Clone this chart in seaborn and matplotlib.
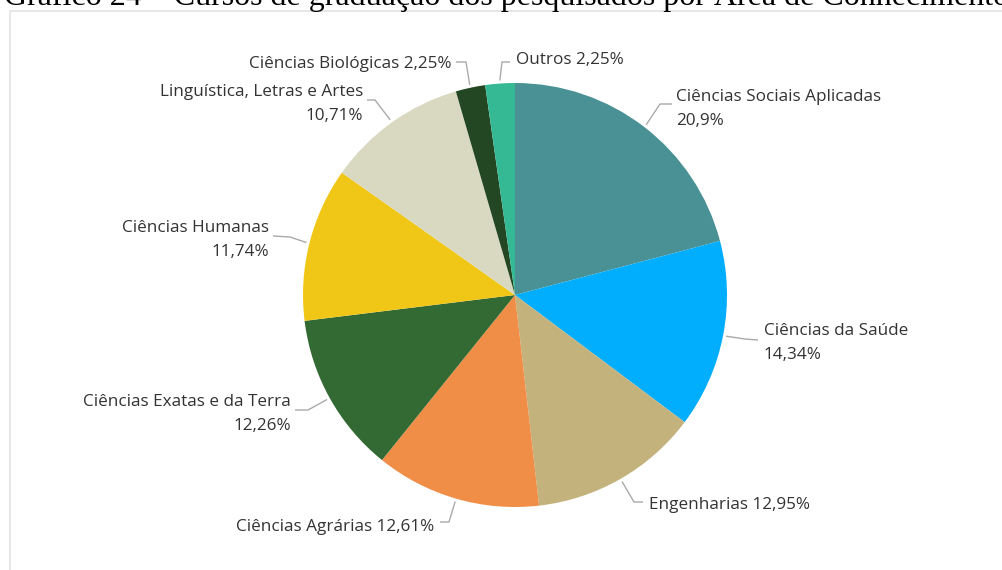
import numpy as np
import matplotlib
matplotlib.use("Agg")
import matplotlib.pyplot as plt
import matplotlib.patches as mpatches
import seaborn as sns

# ---------------- data ----------------
categories = ["Ciências Sociais Aplicadas", "Ciências da Saúde", "Engenharias",
              "Ciências Agrárias", "Ciências Exatas e da Terra", "Ciências Humanas",
              "Linguística, Letras e Artes", "Ciências Biológicas", "Outros"]
values = [20.9, 14.34, 12.95, 12.61, 12.26, 11.74, 10.71, 2.25, 2.25]
value_labels = ["20,9%", "14,34%", "12,95%", "12,61%", "12,26%", "11,74%",
                "10,71%", "2,25%", "2,25%"]
colors = ["#4A9195", "#01AEFE", "#C4B27C", "#F08E47", "#336933", "#F1C717",
          "#D9D8C1", "#234723", "#35B994"]
title = "Gráfico 24 – Cursos de graduação dos pesquisados por Área de Conhecimento"

# ---------------- layout (pixel units, y measured from top) ----------------
W, H = 1003, 570
CX, CY, R = 515, 295, 212
layout = [
    dict(elbow=(660, 104), end=(672, 104), text=(676, 97), ha="left", two=True),
    dict(elbow=(745, 339), end=(758, 340), text=(764, 331), ha="left", two=True),
    dict(elbow=(634, 502), end=(643, 502), text=(649, 505), ha="left", two=False),
    dict(elbow=(449, 522), end=(440, 522), text=(434, 527), ha="right", two=False),
    dict(elbow=(308, 410), end=(295, 410), text=(291, 402), ha="right", two=True),
    dict(elbow=(290, 237), end=(273, 236), text=(269, 228), ha="right", two=True),
    dict(elbow=(375, 100), end=(367, 100), text=(363, 92), ha="right", two=True),
    dict(elbow=(466, 62), end=(456, 62), text=(452, 64), ha="right", two=False),
    dict(elbow=(502, 62), end=(510, 62), text=(516, 60), ha="left", two=False),
]

sns.set_theme(style="white")
plt.rcParams["font.family"] = ["Open Sans", "DejaVu Sans"]

fig = plt.figure(figsize=(W / 100, H / 100), dpi=100)
fig.patch.set_facecolor("white")
ax = fig.add_axes([0, 0, 1, 1])

def fy(y):
    return H - y

# pie
wedges, _ = ax.pie(values, colors=colors, startangle=90, counterclock=False,
                   center=(CX, fy(CY)), radius=R, frame=True,
                   wedgeprops=dict(linewidth=0))
ax.set_xlim(0, W)
ax.set_ylim(0, H)
ax.set_aspect("equal")
ax.axis("off")

# frame
ax.add_patch(mpatches.Rectangle((10.5, -5), W, fy(10.5) + 5, fill=False,
                                edgecolor="#E3E3E3", lw=1.2, zorder=0))

txt_color = "#333333"
line_color = "#AAAAAA"
fs = 12.3
for w, cat, vl, lay in zip(wedges, categories, value_labels, layout):
    ang = np.deg2rad((w.theta1 + w.theta2) / 2)
    sx = CX + (R + 3) * np.cos(ang)
    sy = CY - (R + 3) * np.sin(ang)
    ex, ey = lay["elbow"]
    nx, ny = lay["end"]
    ax.plot([sx, ex, nx], [fy(sy), fy(ey), fy(ny)], color=line_color, lw=1.0,
            solid_capstyle="butt", zorder=3)
    tx, ty = lay["text"]
    if lay["two"]:
        ax.text(tx, fy(ty), cat, ha=lay["ha"], va="center", fontsize=fs, color=txt_color)
        ax.text(tx, fy(ty + 24), vl, ha=lay["ha"], va="center", fontsize=fs, color=txt_color)
    else:
        ax.text(tx, fy(ty), f"{cat} {vl}", ha=lay["ha"], va="center", fontsize=fs,
                color=txt_color)

# cut-off title at top (as in the reference crop)
ax.text(4, fy(4.5), title, ha="left", va="baseline", fontsize=23,
        family=["Liberation Serif", "DejaVu Serif"], color="black", clip_on=False)

fig.savefig("out.png", dpi=100, facecolor="white")
